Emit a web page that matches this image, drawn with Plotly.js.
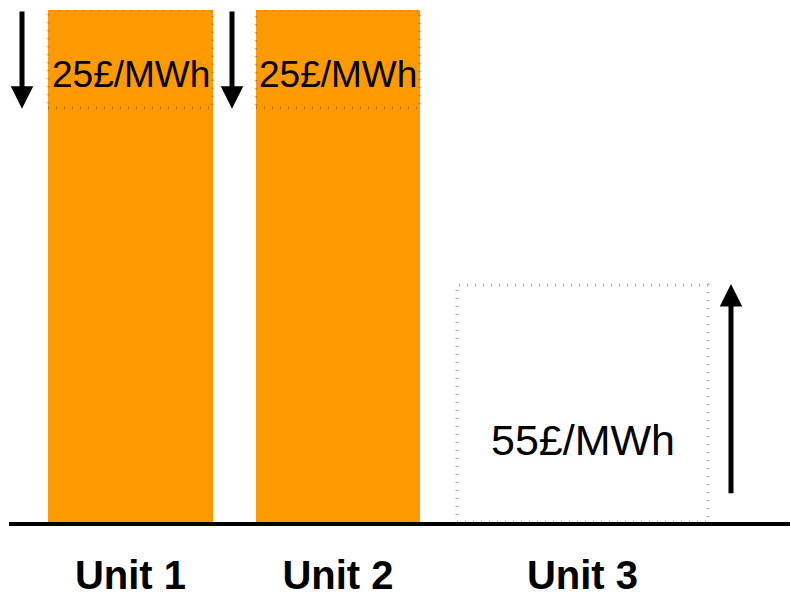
<!DOCTYPE html>
<html>
<head>
<meta charset="utf-8">
<script src="https://cdn.plot.ly/plotly-3.0.1.min.js"></script>
<style>html,body{margin:0;padding:0;background:#fff;}#chart{width:791px;height:599px;}</style>
</head>
<body>
<div id="chart"></div>
<script>
// ---- data ----
const units = ['Unit 1', 'Unit 2', 'Unit 3'];
const output = [100, 100, 0];          // current output (orange bars)
const capacity = [100, 100, 46.3];     // dotted capacity box height
const prices = [25, 25, 55];           // £/MWh
const priceBoxBottom = [80.9, 80.9, 0];// lower edge of the dotted price block
const arrowFrom = [100, 100, 5.3];     // arrow tail (y)
const arrowTo = [80.7, 80.7, 46.5];    // arrow tip (y)

// ---- layout constants (positions, sizes, styles) ----
const centers = [130.5, 338, 582.5];
const widths = [165, 164, 251];
const arrowX = [22, 232, 731];
const labelY = [87.4, 87.4, 16.1];
const labelSize = [37, 37, 43];
const ORANGE = '#FF9900';
const DOT = 'rgba(70,70,70,0.45)';

const shapes = [];
units.forEach((u, i) => {
  shapes.push({
    type: 'rect', xref: 'x', yref: 'y',
    x0: centers[i] - widths[i] / 2, x1: centers[i] + widths[i] / 2,
    y0: priceBoxBottom[i], y1: capacity[i],
    line: {color: DOT, width: 3, dash: '1px,7px'},
    fillcolor: 'rgba(0,0,0,0)', layer: 'above'
  });
});

const annotations = [];
units.forEach((u, i) => {
  annotations.push({
    x: centers[i], y: labelY[i], xref: 'x', yref: 'y',
    text: prices[i] + '£/MWh', showarrow: false,
    font: {family: 'Liberation Sans, Arial, sans-serif', size: labelSize[i], color: '#000'},
    xanchor: 'center', yanchor: 'middle'
  });
  annotations.push({
    x: arrowX[i], y: arrowTo[i], ax: arrowX[i], ay: arrowFrom[i],
    xref: 'x', yref: 'y', axref: 'x', ayref: 'y',
    text: '', showarrow: true, arrowhead: 2, arrowsize: 0.9,
    arrowwidth: 5, arrowcolor: '#000', standoff: 0
  });
});

const trace = {
  type: 'bar', x: centers, y: output, width: widths,
  marker: {color: ORANGE, line: {width: 0}},
  hoverinfo: 'skip'
};

const layout = {
  width: 791, height: 599,
  margin: {l: 9, r: 1, t: 10, b: 77},
  paper_bgcolor: '#fff', plot_bgcolor: '#fff',
  showlegend: false,
  xaxis: {
    range: [9, 790], tickvals: centers, ticktext: units,
    showgrid: false, zeroline: false, showline: true,
    linecolor: '#000', linewidth: 4, ticks: '',
    ticklabelstandoff: 15,
    tickfont: {family: 'Liberation Sans, Arial, sans-serif', size: 40, color: '#000', weight: 'bold'},
    fixedrange: true
  },
  yaxis: {range: [0, 100], visible: false, fixedrange: true},
  shapes: shapes,
  annotations: annotations
};

Plotly.newPlot('chart', [trace], layout, {displayModeBar: false, staticPlot: true});
</script>
</body>
</html>
